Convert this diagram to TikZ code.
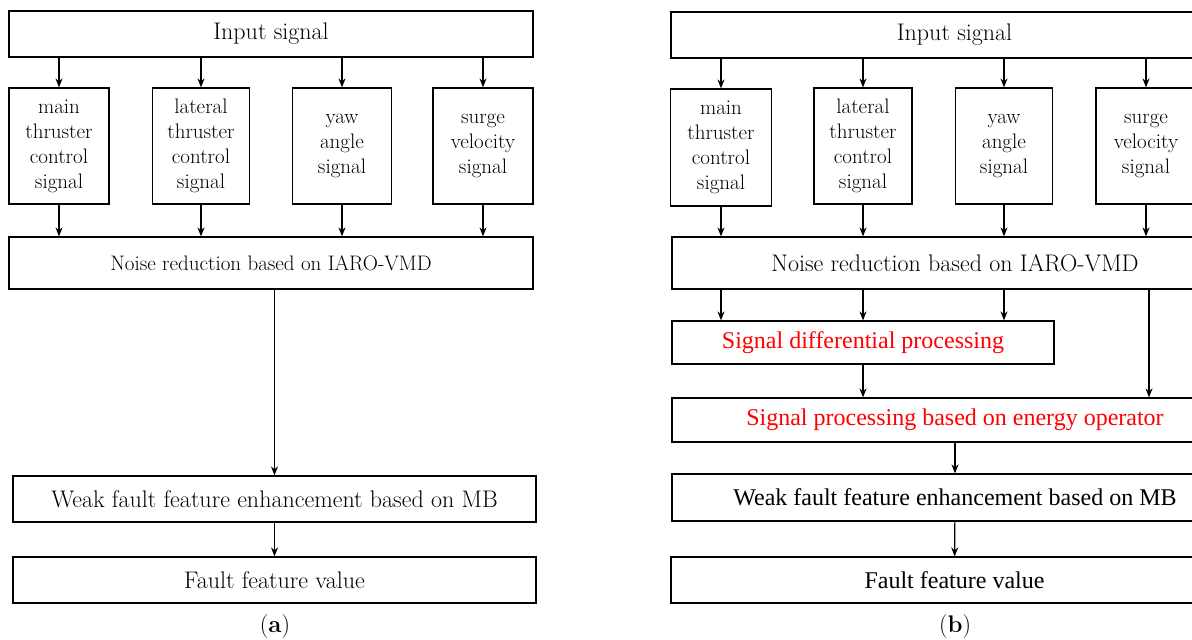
\documentclass[tikz,border=0pt]{standalone}
\usepackage{fontspec}
\newfontfamily\timesfont{Liberation Serif}
\usetikzlibrary{arrows.meta}

\begin{document}
\begin{tikzpicture}[x=1pt, y=-1pt, >={Stealth[length=9pt,width=7pt]},
      box/.style={rectangle, draw, line width=1.2pt, inner sep=0pt,
          font=\fontsize{24}{28}\selectfont},
      sigbox/.style={box, align=center, minimum width=98pt, minimum height=116pt,
          font=\fontsize{21}{25}\selectfont},
      redtext/.style={text=red, font=\timesfont\fontsize{24}{28}\selectfont},
      flow/.style={->, line width=1.2pt}]
    \useasboundingbox (0,0) rectangle (1192,640);
    \clip (0,0) rectangle (1192,640);
    % (a)
    \node[box, minimum width=524pt, minimum height=46pt] (inA) at (271,34) {Input signal};
    \node[sigbox, minimum width=100pt] (a1) at (59,146) {main\\thruster\\control\\signal};
    \node[sigbox, minimum width=97pt] (a2) at (201,146) {lateral\\thruster\\control\\signal};
    \node[sigbox, minimum width=99pt] (a3) at (342,146) {yaw\\angle\\signal};
    \node[sigbox, minimum width=100pt] (a4) at (483,146) {surge\\velocity\\signal};
    \node[box, minimum width=524pt, minimum height=52pt,
          font=\fontsize{21}{25}\selectfont] (noiseA) at (271,263) {Noise reduction based on IARO-VMD};
    \node[box, minimum width=523pt, minimum height=46pt] (weakA) at (274.5,499)
    {Weak fault feature enhancement based on MB};
    \node[box, minimum width=523pt, minimum height=46pt] (faultA) at (274.5,580) {Fault feature value};
    \node[font=\fontsize{24}{28}\selectfont] (capA) at (275,627) {(\textbf{a})};
    \foreach \s in {a1,a2,a3,a4}{
      \draw[flow] (\s.north |- inA.south) -- (\s.north);
      \draw[flow] (\s.south) -- (\s.south |- noiseA.north);
    }
    \draw[flow] (weakA.north |- noiseA.south) -- (weakA.north);
    \draw[flow] (weakA) -- (faultA);

    % (b)
    \node[box, minimum width=567pt, minimum height=46pt] (inB) at (954.5,35) {Input signal};
    \node[sigbox, minimum width=101pt, minimum height=117pt] (b1) at (721,147.5) {main\\thruster\\control\\signal};
    \node[sigbox] (b2) at (863,146) {lateral\\thruster\\control\\signal};
    \node[sigbox, minimum width=97pt] (b3) at (1004,146) {yaw\\angle\\signal};
    \node[sigbox, minimum width=100pt] (b4) at (1146,146) {surge\\velocity\\signal};
    \node[box, minimum width=566pt, minimum height=52pt] (noiseB) at (955,263) {Noise reduction based on IARO-VMD};
    \node[box, redtext, minimum width=382pt, minimum height=43pt] (diffB) at (863,342.5)
    {Signal differential processing};
    \node[box, redtext, minimum width=566pt, minimum height=44pt] (energyB) at (955,420)
    {Signal processing based on energy operator};
    \node[box, minimum width=566pt, minimum height=47pt, font=\timesfont\fontsize{24}{28}\selectfont] (weakB) at (955,497.5)
    {Weak fault feature enhancement based on MB};
    \node[box, minimum width=567pt, minimum height=46pt, font=\timesfont\fontsize{24}{28}\selectfont] (faultB) at (954.5,580)
    {Fault feature value};
    \node[font=\fontsize{24}{28}\selectfont] (capB) at (955,627) {(\textbf{b})};
    \foreach \s in {b1,b2,b3,b4}{
      \draw[flow] (\s.north |- inB.south) -- (\s.north);
      \draw[flow] (\s.south) -- (\s.south |- noiseB.north);
    }
    \foreach \s in {b1,b2,b3}
      \draw[flow] (\s.south |- noiseB.south) -- (\s.south |- diffB.north);
    \draw[flow] ([xshift=3pt]b4.south |- noiseB.south) -- ([xshift=3pt]b4.south |- energyB.north);
    \draw[flow] (diffB) -- (diffB.south |- energyB.north);
    \draw[flow] (energyB) -- (weakB);
    \draw[flow] (weakB) -- (faultB);
  \end{tikzpicture}
\end{document}
